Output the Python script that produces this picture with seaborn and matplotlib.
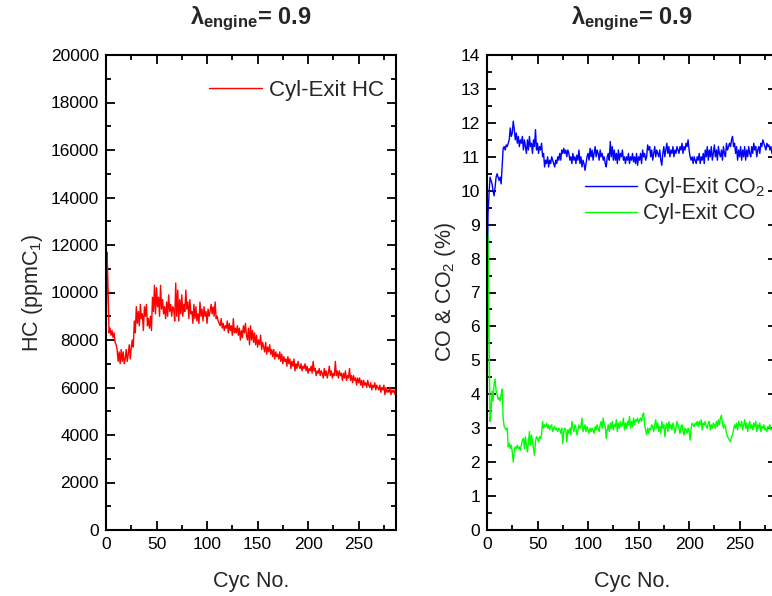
"""
Cylinder-exit emissions vs. cycle number at lambda_engine = 0.9.
Left: HC (ppmC1), right: CO and CO2 (%).
"""

import matplotlib
matplotlib.use("Agg")
import matplotlib.pyplot as plt
import numpy as np
import pandas as pd
import seaborn as sns
from matplotlib.ticker import MultipleLocator

# ---------------------------------------------------------------------------
# Data (one value per cycle)
# ---------------------------------------------------------------------------
hc_ppm = [
    6800, 11700, 10300, 8300, 8500, 8200, 8400, 8100, 8300, 7900,
    7800, 7600, 7100, 7500, 7000, 7600, 7100, 7500, 7000, 7200,
    7600, 7100, 7400, 7800, 7200, 7700, 8000, 7700, 8800, 8300,
    9400, 8700, 9200, 8600, 9500, 8900, 9100, 8400, 9400, 9000,
    9500, 8600, 8900, 8500, 9000, 8400, 9800, 9200, 10300, 9100,
    10200, 9400, 9800, 9000, 10300, 9300, 9700, 9100, 9400, 8900,
    9600, 9000, 9900, 9200, 9500, 9000, 9400, 9300, 8800, 10400,
    9000, 10100, 8800, 9700, 9100, 9900, 9000, 9500, 9200, 10100,
    9300, 9600, 8900, 9700, 9100, 9200, 8700, 9500, 8900, 9400,
    8800, 9100, 8700, 9600, 9000, 9300, 8800, 9400, 9000, 9200,
    8700, 9300, 9000, 9200, 9500, 9100, 9400, 9000, 9600, 8900,
    9000, 8800, 8700, 8600, 8900, 8500, 8700, 8400, 8600, 8500,
    8800, 8300, 8700, 8400, 8600, 8200, 8900, 8300, 8500, 8300,
    8600, 8200, 8500, 8000, 8400, 8100, 8600, 8300, 8700, 8200,
    8000, 8500, 7800, 8600, 8000, 8400, 7900, 8300, 7800, 8200,
    7700, 8000, 7800, 8200, 7600, 7900, 7700, 7500, 7900, 7400,
    7700, 7500, 7800, 7400, 7600, 7300, 7600, 7200, 7500, 7300,
    7400, 7200, 7500, 7100, 7400, 7000, 7300, 7100, 7200, 6900,
    7300, 7000, 7200, 6800, 7100, 6900, 7200, 6700, 7000, 6800,
    7100, 6900, 6800, 7000, 6700, 6900, 6800, 7000, 6700, 6900,
    6600, 6800, 6700, 6900, 6600, 7100, 6700, 6800, 6500, 6700,
    6600, 6800, 6500, 6700, 6600, 6400, 6800, 6500, 6700, 6400,
    6600, 6900, 6500, 6700, 6400, 6600, 6500, 7100, 6500, 6700,
    6400, 6700, 6500, 6600, 6300, 6600, 6400, 6700, 6300, 6500,
    6400, 6800, 6300, 6500, 6200, 6500, 6300, 6400, 6100, 6400,
    6200, 6400, 6100, 6300, 6000, 6300, 6100, 6200, 6000, 6300,
    6100, 6000, 6200, 5900, 6100, 6000, 6200, 5900, 6100, 6000,
    5900, 6100, 5800, 6000, 5900, 6100, 5700, 6000, 5800, 5900,
    5800, 6000, 5700, 5900, 5800, 5900, 5700, 5800,
]

co2_pct = [
    6.1, 9.3, 9.9, 10.4, 10.3, 10.2, 10.0, 9.85, 10.1, 10.4,
    10.5, 10.4, 10.3, 10.4, 10.2, 10.7, 11.25, 11.3, 11.2, 11.35,
    11.3, 11.4, 11.5, 11.85, 11.6, 11.7, 12.05, 11.8, 11.5, 11.7,
    11.4, 11.6, 11.3, 11.5, 11.4, 11.6, 11.2, 11.5, 11.3, 11.1,
    11.5, 11.2, 11.6, 11.3, 11.4, 11.1, 11.5, 11.3, 11.8, 11.2,
    11.4, 11.1, 11.3, 11.2, 11.4, 11.0, 11.1, 10.7, 10.9, 10.8,
    11.0, 10.7, 10.9, 10.8, 11.0, 10.9, 10.8, 10.7, 10.9, 10.8,
    11.0, 10.9, 11.1, 10.9, 11.2, 11.1, 11.25, 11.1, 11.2, 11.0,
    11.2, 11.1, 10.9, 11.0, 10.8, 11.1, 10.9, 11.0, 10.8, 11.05,
    10.9, 11.2, 10.8, 11.0, 10.7, 10.9, 10.8, 10.6, 10.8, 11.0,
    11.1, 10.9, 11.25, 11.0, 11.2, 10.9, 11.1, 11.3, 11.0, 11.2,
    11.1, 10.9, 11.2, 11.0, 11.1, 10.9, 11.0, 10.8, 10.7, 11.0,
    11.1, 10.9, 11.45, 11.0, 11.3, 10.9, 11.2, 10.9, 11.1, 10.8,
    11.2, 10.9, 11.1, 11.0, 11.2, 10.9, 11.0, 10.8, 11.0, 10.9,
    11.1, 10.8, 11.0, 10.9, 11.1, 10.85, 11.0, 10.8, 11.1, 10.75,
    11.0, 10.9, 11.1, 10.8, 11.2, 11.0, 11.1, 10.9, 11.0, 11.35,
    11.2, 11.3, 11.0, 11.2, 10.9, 11.1, 11.3, 11.0, 11.2, 11.1,
    11.0, 11.2, 10.9, 10.75, 11.1, 11.3, 11.0, 11.2, 11.4, 11.1,
    11.3, 11.0, 11.2, 11.1, 11.3, 11.0, 11.2, 11.1, 11.3, 11.2,
    11.1, 11.3, 11.2, 11.4, 11.1, 11.3, 11.2, 11.4, 11.3, 11.5,
    11.2, 11.0, 10.9, 11.0, 10.8, 11.0, 10.9, 10.8, 11.0, 10.9,
    11.1, 10.8, 11.0, 10.9, 11.1, 10.8, 11.2, 11.0, 11.3, 10.9,
    11.2, 11.0, 11.3, 10.9, 11.1, 11.35, 11.0, 11.2, 10.9, 11.3,
    11.1, 11.0, 11.2, 10.9, 11.3, 11.1, 11.0, 11.4, 11.2, 11.3,
    11.4, 11.3, 11.5, 11.6, 11.3, 11.4, 11.1, 11.3, 10.9, 11.2,
    11.0, 11.3, 10.9, 11.2, 11.0, 11.3, 10.9, 11.2, 11.0, 11.3,
    11.1, 11.0, 11.3, 11.1, 11.4, 11.2, 11.3, 11.0, 11.2, 11.3,
    11.1, 11.4, 11.3, 11.5, 11.4, 11.3, 11.2, 11.4, 11.3, 11.35,
    11.2, 11.3, 11.1, 11.3, 11.2, 11.3, 11.2, 11.15,
]

co_pct = [
    1.0, 8.7, 6.0, 3.2, 3.5, 4.1, 3.8, 4.3, 4.45, 4.1,
    4.0, 3.85, 3.9, 3.8, 4.0, 4.15, 3.3, 3.05, 3.0, 2.95,
    3.0, 2.45, 2.55, 2.4, 2.5, 2.3, 2.0, 2.35, 2.45, 2.4,
    2.5, 2.4, 2.45, 2.35, 2.5, 2.65, 2.7, 2.4, 2.75, 2.5,
    2.3, 2.6, 2.9, 2.5, 2.8, 2.6, 2.4, 2.2, 2.6, 2.75,
    2.7, 2.6, 2.75, 2.7, 2.8, 3.2, 3.0, 3.1, 3.05, 3.15,
    3.0, 3.1, 2.95, 3.05, 3.1, 2.9, 3.0, 3.05, 2.95, 3.0,
    2.9, 3.0, 2.95, 2.85, 3.0, 2.55, 2.9, 3.0, 2.95, 2.6,
    2.95, 2.85, 3.0, 2.8, 3.2, 3.05, 2.9, 3.1, 3.0, 2.8,
    2.95, 3.1, 3.0, 3.05, 3.3, 2.9, 3.0, 3.1, 2.9, 3.05,
    2.95, 2.85, 3.0, 2.9, 3.0, 2.95, 2.85, 3.05, 2.95, 3.1,
    3.0, 2.9, 3.1, 3.2, 3.0, 3.3, 3.1, 3.05, 2.7, 2.95,
    3.1, 2.9, 3.15, 3.0, 3.2, 2.95, 3.1, 3.05, 3.25, 2.9,
    3.15, 3.0, 3.2, 3.05, 3.1, 3.3, 2.95, 3.15, 3.0, 3.2,
    3.1, 3.35, 3.0, 3.2, 3.05, 3.3, 3.1, 3.25, 3.2, 3.3,
    3.15, 3.25, 3.3, 3.2, 3.4, 3.45, 3.1, 2.95, 2.8, 3.0,
    2.85, 3.0, 2.95, 3.1, 3.05, 2.9, 3.1, 3.25, 3.0, 3.15,
    2.9, 3.05, 2.85, 3.2, 3.0, 3.1, 2.75, 3.05, 3.15, 2.9,
    3.2, 3.0, 3.1, 2.95, 3.15, 3.05, 2.85, 3.0, 3.2, 3.1,
    3.0, 2.85, 3.05, 3.1, 2.9, 2.8, 3.0, 2.95, 2.85, 3.0,
    2.9, 2.65, 3.0, 3.15, 3.1, 3.05, 3.15, 3.1, 3.2, 3.05,
    3.2, 3.1, 3.25, 2.95, 3.15, 3.1, 3.2, 3.05, 3.0, 3.15,
    3.2, 2.95, 3.1, 3.0, 3.15, 3.1, 3.0, 3.2, 3.05, 3.25,
    3.1, 3.3, 3.38, 3.15, 3.0, 3.1, 3.05, 2.85, 2.75, 2.7,
    2.65, 2.6, 2.75, 2.8, 2.95, 3.1, 3.0, 3.15, 2.95, 3.2,
    3.1, 3.05, 3.2, 2.95, 3.1, 3.25, 3.0, 3.15, 2.9, 3.1,
    3.2, 3.0, 3.1, 2.95, 3.15, 3.05, 3.2, 2.9, 3.1, 3.0,
    3.15, 2.9, 3.05, 3.0, 3.1, 2.95, 3.0, 2.9, 3.05, 3.0,
    3.1, 2.95, 3.0, 2.9, 3.05, 3.0, 2.95, 3.0,
]

cycles = list(range(len(hc_ppm)))

TITLE = r"$\mathbf{\lambda_{engine}}$= 0.9"
X_LABEL = "Cyc No."
HC_LABEL = r"HC (ppmC$_1$)"
CO_LABEL = r"CO & CO$_2$ (%)"

# ---------------------------------------------------------------------------
# Style
# ---------------------------------------------------------------------------
sns.set_style("ticks")
plt.rcParams["font.family"] = ["Liberation Sans", "DejaVu Sans"]
plt.rcParams["mathtext.fontset"] = "custom"
plt.rcParams["mathtext.rm"] = "Liberation Sans"
plt.rcParams["mathtext.it"] = "Liberation Sans:italic"
plt.rcParams["mathtext.bf"] = "Liberation Sans:bold"


def style_axis(ax, xmax, ymax, ymajor, yminor):
    ax.set_xlim(0, xmax)
    ax.set_ylim(0, ymax)
    ax.xaxis.set_major_locator(MultipleLocator(50))
    ax.xaxis.set_minor_locator(MultipleLocator(25))
    ax.yaxis.set_major_locator(MultipleLocator(ymajor))
    ax.yaxis.set_minor_locator(MultipleLocator(yminor))
    ax.tick_params(which="both", direction="in", top=True, right=True,
                   width=1.3, colors="black", labelsize=12.5)
    ax.tick_params(which="major", length=6.5, pad=5)
    ax.tick_params(which="minor", length=3.5)
    for sp in ax.spines.values():
        sp.set_linewidth(1.5)
        sp.set_color("black")
    ax.set_xlabel(X_LABEL, fontsize=15.5, labelpad=14)
    ax.set_title(TITLE, fontsize=17, fontweight="bold", pad=22)


# ---------------------------------------------------------------------------
# Figure
# ---------------------------------------------------------------------------
fig = plt.figure(figsize=(7.72, 5.96), dpi=100)
ax_hc = fig.add_axes([106 / 772, 66 / 596, 290 / 772, 475 / 596])
ax_co = fig.add_axes([487 / 772, 66 / 596, 290 / 772, 475 / 596])

hc_df = pd.DataFrame({"cyc": cycles, "hc": hc_ppm})
gas_df = pd.DataFrame({"cyc": cycles, "co2": co2_pct, "co": co_pct})

sns.lineplot(data=hc_df, x="cyc", y="hc", ax=ax_hc, color="#ff0000",
             linewidth=1.0, label="Cyl-Exit HC")
sns.lineplot(data=gas_df, x="cyc", y="co2", ax=ax_co, color="#0000ff",
             linewidth=1.0, label=r"Cyl-Exit CO$_2$")
sns.lineplot(data=gas_df, x="cyc", y="co", ax=ax_co, color="#00ff00",
             linewidth=1.0, label="Cyl-Exit CO")

style_axis(ax_hc, 287, 20000, 2000, 1000)
style_axis(ax_co, 287, 14, 1, 0.5)
ax_hc.set_ylabel(HC_LABEL, fontsize=15.5, labelpad=4)
ax_co.set_ylabel(CO_LABEL, fontsize=15.5, labelpad=2)

ax_hc.legend(loc="center left", bbox_to_anchor=(0.355, 0.926), frameon=False,
             fontsize=16, borderpad=0, borderaxespad=0, handlelength=2.4,
             handletextpad=0.3)
ax_co.legend(loc="center left", bbox_to_anchor=(0.338, 0.695), frameon=False,
             fontsize=15.5, borderpad=0, borderaxespad=0, handlelength=2.4,
             handletextpad=0.3, labelspacing=0.15)

fig.savefig("out.png", dpi=100)
plt.close(fig)
